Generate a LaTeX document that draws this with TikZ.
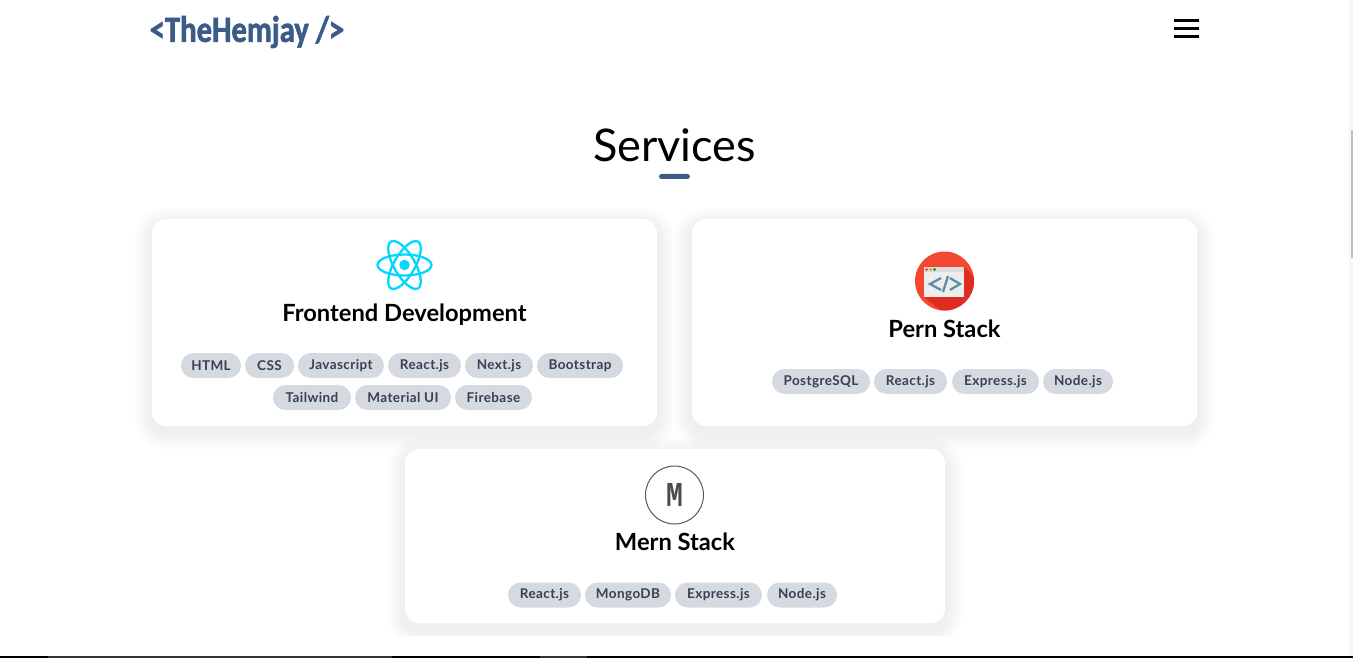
\documentclass[tikz,border=0pt]{standalone}
\usepackage{fontspec}
\setmainfont{Lato}
\newfontfamily\logofont[FakeStretch=0.83,FakeBold=1.6]{Carlito}
\newfontfamily\monofont[FakeStretch=0.8]{Liberation Mono}
\usetikzlibrary{positioning, backgrounds}
\definecolor{brand}{HTML}{3B5C87}
\definecolor{pillbg}{HTML}{D5D9E0}
\definecolor{pilltxt}{HTML}{374151}
\definecolor{reactc}{HTML}{00D8FF}
\definecolor{pernred}{HTML}{F4472F}
\definecolor{perndark}{HTML}{DF2C22}
\definecolor{codec}{HTML}{5C8FA8}
\newcommand{\cardshadow}[1]{%
  \foreach \i in {1,...,18}
    \fill[black!32, opacity=.01, rounded corners=14+\i]
      ([shift={(-\i,6-\i)}]#1.north west) rectangle ([shift={(\i,6+\i)}]#1.south east);
}
\begin{document}
\begin{tikzpicture}[
  x=1pt, y=-1pt,
  node distance=4pt,
  card/.style={fill=white, rounded corners=14pt, inner sep=0pt},
  pill/.style={fill=pillbg, text=pilltxt, rounded corners=12.5pt, minimum height=25pt, inner sep=0pt, outer sep=0pt,
    font=\fontsize{13.5}{15}\selectfont\bfseries\addfontfeature{LetterSpace=3}},
  heading/.style={font=\fontsize{23.7}{26}\selectfont\bfseries, text=black, inner sep=0pt, anchor=base},
  bar/.style={fill=black, minimum width=25pt, minimum height=3pt, inner sep=0pt}
]
  \useasboundingbox (0,0) rectangle (1353,658);
  % header
  \node[inner sep=0pt, text=brand, font=\fontsize{37}{40}\logofont\bfseries] (logo) at (247,32) {<TheHemjay />};
  \node[bar] (bara) at (1186.5,20.5) {};
  \node[bar] (barb) at (1186.5,28.5) {};
  \node[bar] (barc) at (1186.5,36.5) {};
  \node[inner sep=0pt, text=black, font=\fontsize{45}{50}\selectfont] (title) at (674.5,145) {Services};
  \node[fill=brand, rounded corners=2.5pt, minimum width=31pt, minimum height=5pt, inner sep=0pt] (rule) at (674.5,176.5) {};
  % cards
  \node[card, minimum width=505pt, minimum height=207pt] (front) at (404.5,322.5) {};
  \node[card, minimum width=505pt, minimum height=207pt] (pern) at (944.5,322.5) {};
  \node[card, minimum width=540pt, minimum height=174pt] (mern) at (675,536) {};
  \begin{scope}[on background layer]
    \cardshadow{front}
    \cardshadow{pern}
    \begin{scope}
      \clip (0,430) rectangle (1353,635);
      \cardshadow{mern}
    \end{scope}
  \end{scope}
  % frontend
  \begin{scope}[shift={(404.5,265)}, draw=reactc, line width=2.3pt]
    \foreach \a in {0,60,120}
      \draw[rotate=\a] (0,0) ellipse (27 and 10.5);
    \fill[reactc] (0,0) circle (5.2);
  \end{scope}
  \node[heading] (fronttitle) at (404.5,321.5) {Frontend Development};
  \node[pill, minimum width=60pt, anchor=west] (html) at (181,365.5) {HTML};
  \node[pill, minimum width=49pt, right=of html] (css) {CSS};
  \node[pill, minimum width=86pt, right=of css] (js) {Javascript};
  \node[pill, minimum width=73pt, right=of js] (react) {React.js};
  \node[pill, minimum width=68pt, right=of react] (next) {Next.js};
  \node[pill, minimum width=86pt, right=of next] (boot) {Bootstrap};
  \node[pill, minimum width=78pt, anchor=west] (tail) at (273,397.5) {Tailwind};
  \node[pill, minimum width=96pt, right=of tail] (mui) {Material UI};
  \node[pill, minimum width=77pt, right=of mui] (fire) {Firebase};
  % pern
  \begin{scope}
    \fill[pernred] (944.5,281) circle (29.5);
    \begin{scope}
      \clip (944.5,281) circle (29.5);
      \fill[perndark] (964,267) -- (990,293) -- (960,325) -- (924,297) -- (964,297) -- cycle;
    \end{scope}
    \fill[white!93!black] (924,267) rectangle (964,297);
    \fill[white!86!black] (924,267) rectangle (964,272);
    \fill[pernred] (926.5,269.5) circle (1.5);
    \fill[orange!80!yellow] (930.5,269.5) circle (1.5);
    \fill[green!60!black] (934.5,269.5) circle (1.5);
    \draw[codec, line width=2.3pt] (941,278) -- (930,284) -- (941,290);
    \draw[codec, line width=2.3pt] (948,276) -- (943,292);
    \draw[codec, line width=2.3pt] (950,278) -- (960,284) -- (950,290);
  \end{scope}
  \node[heading] (perntitle) at (944.5,337) {Pern Stack};
  \node[pill, minimum width=98pt, anchor=west] (pg) at (772,381.5) {PostgreSQL};
  \node[pill, minimum width=73pt, right=of pg] (preact) {React.js};
  \node[pill, minimum width=87pt, right=5pt of preact] (pexpress) {Express.js};
  \node[pill, minimum width=70pt, right=of pexpress] (pnode) {Node.js};
  % mern
  \node[circle, draw=black!65, line width=1pt, minimum size=58pt, inner sep=0pt, text=black!70,
    font=\fontsize{35}{36}\monofont\bfseries] (mlogo) at (674.5,495) {M};
  \node[heading] (merntitle) at (675,550.5) {Mern Stack};
  \node[pill, minimum width=73pt, anchor=west] (mreact) at (508,595) {React.js};
  \node[pill, minimum width=86pt, right=of mreact] (mongo) {MongoDB};
  \node[pill, minimum width=87pt, right=of mongo] (mexpress) {Express.js};
  \node[pill, minimum width=70pt, right=5pt of mexpress] (mnode) {Node.js};
  % window edges
  \fill[black!3] (1349,0) rectangle (1353,656);
  \fill[black!25] (1351,130) rectangle (1353,258);
  \fill[black] (0,656) rectangle (1353,658);
  \fill[black!80] (48,656) rectangle (392,658);
  \fill[black!80] (540,656) rectangle (587,658);
\end{tikzpicture}
\end{document}
